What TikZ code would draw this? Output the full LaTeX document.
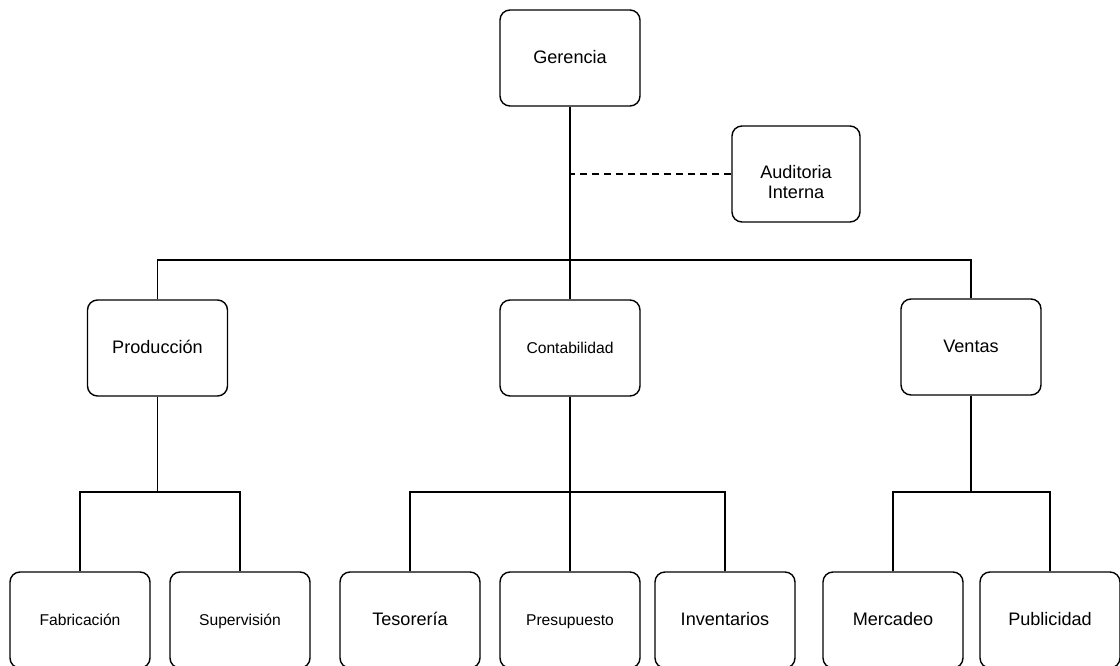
\documentclass[tikz,border=0pt]{standalone}
\usepackage{fontspec}
\setmainfont{Liberation Sans}
\tikzset{
  marco/.style={draw, rounded corners=0.2cm, line width=0.8pt,
    minimum width=2.8cm, minimum height=1.92cm, align=center,
    font=\fontsize{10.3}{11.4}\selectfont},
  caja/.style={marco, text height=1.55ex, text depth=0.35ex},
  cajachica/.style={caja, font=\fontsize{8.9}{10}\selectfont},
  linea/.style={line width=0.8pt},
  punteada/.style={line width=0.8pt, dash pattern=on 0.14cm off 0.1cm}
}
\begin{document}
\begin{tikzpicture}
    \useasboundingbox (0,0) rectangle (22.4,-13.32);
    \clip (0,0) rectangle (22.4,-13.32);
    % Gerencia y staff
    \node[caja] (ger) at (11.40,-1.16) {Gerencia};
    \node[marco,minimum width=2.56cm,text height=30pt,text depth=2pt]
      (aud) at (15.92,-3.48) {Auditoria\\Interna};
    % Departamentos
    \node[caja] (prod) at (3.15,-6.96) {Producción};
    \node[cajachica] (cont) at (11.40,-6.96) {Contabilidad};
    \node[caja] (vent) at (19.42,-6.94) {Ventas};
    % Secciones de produccion
    \node[cajachica] (fab) at (1.60,-12.40) {Fabricación};
    \node[cajachica] (sup) at (4.80,-12.40) {Supervisión};
    % Secciones de contabilidad
    \node[caja] (tes) at (8.20,-12.40) {Tesorería};
    \node[cajachica] (pres) at (11.40,-12.40) {Presupuesto};
    \node[caja] (inv) at (14.50,-12.40) {Inventarios};
    % Secciones de ventas
    \node[caja] (merc) at (17.86,-12.40) {Mercadeo};
    \node[caja] (pub) at (21.00,-12.40) {Publicidad};
    % Barras de union
    \coordinate (barra) at (11.40,-5.20);
    \coordinate (bprod) at (3.15,-9.84);
    \coordinate (bcont) at (11.40,-9.84);
    \coordinate (bvent) at (19.42,-9.84);
    % Conectores
    \draw[linea] (ger) -- (cont);
    \draw[punteada] (aud) -- (aud -| ger);
    \draw[linea] (prod.north) |- (barra) -| (vent.north);
    \draw[linea] (prod) -- (bprod);
    \draw[linea] (fab.north) |- (bprod) -| (sup.north);
    \draw[linea] (cont) -- (pres);
    \draw[linea] (tes.north) |- (bcont) -| (inv.north);
    \draw[linea] (vent) -- (bvent);
    \draw[linea] (merc.north) |- (bvent) -| (pub.north);
\end{tikzpicture}
\end{document}
